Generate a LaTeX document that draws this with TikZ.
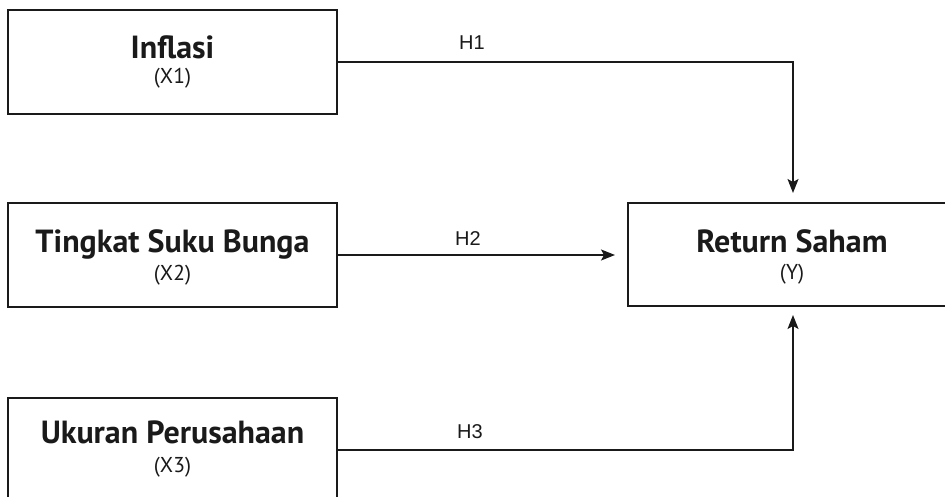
\documentclass[tikz,border=0pt]{standalone}
\usepackage{fontspec}
\setmainfont{PT Sans}
\newfontfamily\labfont{Liberation Sans}
\usetikzlibrary{arrows.meta}
\definecolor{ink}{HTML}{1A1A1A}
\begin{document}
\begin{tikzpicture}[x=1pt,y=-1pt,
  varbox/.style={draw=ink,line width=1.6pt,minimum width=329pt,minimum height=104pt,inner sep=0pt},
  resbox/.style={draw=ink,line width=1.6pt,minimum width=322pt,minimum height=103pt,inner sep=0pt},
  title/.style={anchor=base,font=\bfseries\fontsize{32}{32}\selectfont,text=ink,inner sep=0pt},
  sub/.style={anchor=base,font=\fontsize{21.5}{21.5}\selectfont,text=ink,inner sep=0pt},
  hlab/.style={anchor=base,font=\labfont\fontsize{20}{20}\selectfont,text=ink,inner sep=0pt},
  conn/.style={draw=ink,line width=1.3pt,-{Stealth[length=14pt,width=11pt,inset=3pt]}}]
\useasboundingbox (0,0) rectangle (945,497);
\clip (0,0) rectangle (945,497);
\fill[white] (0,0) rectangle (945,497);
% boxes
\node[varbox] (b1) at (172.5,62) {};
\node[varbox] (b2) at (172.5,255) {};
\node[varbox] (b3) at (172.5,450) {};
\node[resbox] (ret) at (789,254.5) {};
% texts
\node[title] (t1) at (172.5,59) {Inflasi};
\node[sub] (s1) at (172.5,84) {(X1)};
\node[title] (t2) at (172.5,252) {Tingkat Suku Bunga};
\node[sub] (s2) at (172.5,280) {(X2)};
\node[title] (t3) at (172.5,443) {Ukuran Perusahaan};
\node[sub] (s3) at (172.5,472) {(X3)};
\node[title] (tr) at (792,252) {Return Saham};
\node[sub] (sr) at (792,279) {(Y)};
% target coordinates
\coordinate (e1) at (793,193);
\coordinate (e2) at (615,255);
\coordinate (e3) at (793,315);
% connectors
\draw[conn] (b1.east) -| (e1);
\draw[conn] (b2.east) -- (e2);
\draw[conn] (b3.east) -| (e3);
% labels
\node[hlab] (h1) at (472,50) {H1};
\node[hlab] (h2) at (468,246) {H2};
\node[hlab] (h3) at (470,438) {H3};
\end{tikzpicture}
\end{document}
